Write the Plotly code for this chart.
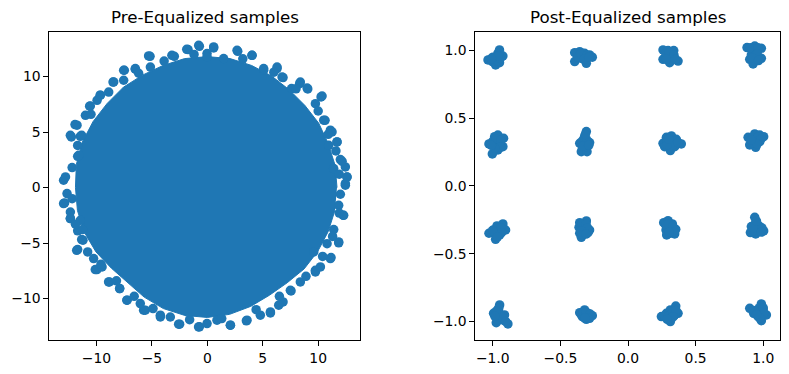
import plotly.graph_objects as go

BLUE = "#1f77b4"

# ---- Pre-equalized samples: dense core outline ----
core_x = [11.7, 11.52, 10.9, 10.05, 8.81, 7.39, 5.8, 4.0, 2.05, 0.0, -2.05, -4.0, -5.85, -7.58,
          -9.04, -10.31, -11.28, -11.82, -11.9, -11.72, -11.09, -10.05, -8.66, -7.2, -5.7, -3.97,
          -2.03, 0.0, 2.01, 3.9, 5.6, 7.2, 8.73, 9.96, 10.9, 11.52]
core_y = [0.0, 2.03, 3.97, 5.8, 7.39, 8.81, 10.05, 11.0, 11.62, 11.8, 11.62, 11.0, 10.13, 9.04,
          7.58, 5.95, 4.1, 2.08, 0.0, -2.07, -4.04, -5.8, -7.26, -8.58, -9.87, -10.9,
          -11.52, -11.7, -11.42, -10.71, -9.7, -8.58, -7.33, -5.75, -3.97, -2.03]

# ---- Pre-equalized samples: scattered edge points ----
pre_x = [-0.72, 0.57, -1.74, -5.17, 4.03, 2.74, -2.98, -7.49, -6.5, -8.45, -9.66, -10.62, -11.76,
         -12.27, -11.46, -11.7, -12.97, -12.88, -12.36, -11.7, -11.22, -11.7, -9.96, -8.84, -7.91,
         -7.25, -5.75, -4.24, -2.5, -0.72, 2.08, 3.52, 5.69, 6.83, 7.55, 9.75, 11.16, 11.85, 12.24,
         12.45, 12.6, 12.45, 12.0, 11.7, 11.1, 10.5, 10.26, 9.06, 8.33, 6.83, 6.29, 5.08,
         -5.3, -6.5, -7.55, -8.51, -9.66, -10.56, -11.94, -12.36, -11.34, -11.6, -12.8, -1.86, -0.78,
         -0.03, -3.2, -5.14, -7.55, -9.95, -11.0,
         0.57, 2.68, 4.03, 6.29, 6.74, 8.39, 9.0, 10.35, 9.75, 10.62, 11.25, 11.7, 12.16, 12.6,
         -0.03, 1.47, 5.08, 7.6, 10.95, 11.4,
         -12.97, -12.36, -12.36, -11.46, -11.25, -11.34, -11.79, -10.26, -10.11, -9.5, -8.91, -7.91,
         -7.25, -5.6, -4.24, -2.59, -12.66, -3.34, -0.79, -6.05,
         12.45, 12.3, 11.85, 11.4, 11.85, 11.1, 9.6, 9.75, 8.39, 7.49, 6.44, 5.69, 4.78, 3.58, 2.08,
         0.87, -0.03, 10.2, 10.8,
         11.9, 11.6, 10.9, 10.0, 8.0, 6.0, 3.2, -1.2, -3.9, -6.2, -8.9, -10.5, -11.7, -12.2, -12.2,
         -11.9, -10.8, -9.6, -8.2, -6.6, -4.9, -1.6, 1.3, 4.4, 6.5, 8.9, 10.4, 11.3, 11.9, 12.0]
pre_y = [12.73, 12.58, 12.43, 11.83, 11.92, 12.28, 11.83, 10.57, 10.66, 9.52, 8.32, 7.33, 5.62,
         4.56, 4.62, 2.82, 0.66, -1.38, -2.79, -3.9, -4.74, -5.59, -7.39, -8.5, -9.1,
         -10.15, -11.05, -11.5, -12.31, -12.55, -12.4, -12.0, -11.29, -10.3, -9.31, -7.6, -6.31, -4.98, -2.49,
         0.21, 0.96, 1.86, 2.52, 4.11, 5.17, 6.07, 8.17, 8.89, 9.37, 9.91, 10.72, 10.57,
         11.86, 10.72, 10.57, 9.51, 8.32, 7.35, 5.68, 4.71, 4.71, 2.91, 0.96, 12.46, 12.82,
         12.07, 11.92, 10.86, 9.67, 7.86, 6.51,
         12.67, 12.37, 11.92, 10.86, 9.96, 9.51, 8.97, 8.25, 7.56, 6.06, 5.01, 4.11, 2.37, 0.95,
         11.77, 11.62, 10.72, 8.92, 3.81, 1.71,
         -1.44, -2.2, -2.79, -2.95, -3.78, -4.68, -5.65, -6.4, -7.39, -7.15, -8.5, -9.1,
         -10.15, -11.05, -11.66, -12.31, -0.54, -11.66, -12.56, -10.45,
         0.36, -2.5, -1.6, -3.78, -4.9, -6.4, -5.8, -7.45, -8.5, -9.25, -10.6, -11.2, -11.5, -11.95, -12.4,
         -11.95, -12.25, -7.15, -5.05,
         1.2, 3.3, 4.8, 6.9, 8.9, 10.4, 11.6, 12.0, 11.4, 10.3, 8.6, 6.6, 3.8, 1.8, -1.0,
         -3.3, -5.8, -6.9, -8.4, -9.8, -10.9, -11.9, -11.8, -11.0, -9.8, -8.0, -6.2, -4.4, -2.3, -0.6]

# ---- Post-equalized samples (16 clusters): outer points ----
post_x = [
    -1.035, -0.999, -0.962, -0.950, -0.925, -0.950, -0.979, -1.003, -0.97, -0.95,
    -0.394, -0.357, -0.321, -0.284, -0.264, -0.394, -0.345, -0.308, -0.357, -0.34, -0.31,
    0.259, 0.296, 0.321, 0.333, 0.370, 0.308, 0.259, 0.284, 0.338, 0.30, 0.32,
    0.880, 0.937, 0.986, 0.937, 0.900, 0.949, 0.986, 0.925, 0.912, 0.94, 0.95,
    -1.028, -0.986, -0.962, -0.920, -0.925, -0.962, -1.003, -0.986, -0.950, -0.97, -0.95,
    -0.308, -0.321, -0.357, -0.284, -0.333, -0.345, -0.303, -0.321, -0.32, -0.33,
    0.259, 0.284, 0.321, 0.357, 0.394, 0.345, 0.313, 0.271, 0.308, 0.32, 0.30,
    0.888, 0.937, 0.974, 1.003, 0.949, 0.900, 0.944, 0.974, 0.95, 0.93,
    -1.028, -0.998, -0.969, -0.925, -0.905, -0.949, -0.979, -0.959, -0.96, -0.95,
    -0.357, -0.308, -0.284, -0.321, -0.357, -0.345, -0.296, -0.362, -0.33, -0.32,
    0.264, 0.296, 0.328, 0.353, 0.313, 0.345, 0.281, 0.286, 0.31, 0.32,
    0.937, 0.944, 0.912, 0.974, 1.003, 0.905, 0.944, 0.969, 0.95, 0.94,
    -0.949, -0.962, -0.994, -0.949, -0.974, -0.925, -0.888, -0.913, -0.95, -0.94,
    -0.357, -0.321, -0.296, -0.264, -0.308, -0.338, -0.284, -0.32, -0.30,
    0.247, 0.284, 0.313, 0.353, 0.370, 0.321, 0.313, 0.345, 0.31, 0.33,
    0.900, 0.929, 0.986, 0.999, 1.023, 0.962, 0.986, 0.949, 0.96, 0.97,
]
post_y = [
    0.930, 0.950, 0.979, 1.004, 0.959, 0.910, 0.893, 0.918, 0.94, 0.95,
    0.984, 0.991, 0.979, 0.967, 0.950, 0.918, 0.942, 0.905, 0.960, 0.95, 0.955,
    1.004, 0.999, 0.979, 0.942, 0.922, 0.910, 0.935, 0.954, 0.999, 0.96, 0.95,
    1.021, 1.033, 1.016, 0.991, 0.935, 0.930, 0.942, 0.900, 0.967, 0.96, 0.95,
    0.310, 0.364, 0.376, 0.352, 0.290, 0.266, 0.236, 0.315, 0.327, 0.32, 0.30,
    0.401, 0.364, 0.315, 0.320, 0.278, 0.253, 0.253, 0.315, 0.30, 0.34,
    0.315, 0.359, 0.369, 0.344, 0.310, 0.290, 0.261, 0.290, 0.327, 0.32, 0.31,
    0.359, 0.384, 0.376, 0.364, 0.339, 0.303, 0.285, 0.327, 0.35, 0.33,
    -0.349, -0.325, -0.295, -0.280, -0.325, -0.362, -0.394, -0.330, -0.31, -0.34,
    -0.271, -0.258, -0.325, -0.320, -0.349, -0.379, -0.345, -0.305, -0.31, -0.33,
    -0.271, -0.256, -0.280, -0.320, -0.349, -0.354, -0.325, -0.362, -0.31, -0.33,
    -0.231, -0.271, -0.300, -0.300, -0.332, -0.344, -0.354, -0.320, -0.32, -0.30,
    -0.878, -0.915, -0.940, -0.964, -1.009, -0.989, -1.018, -0.952, -0.94, -0.98,
    -0.935, -0.915, -0.940, -0.957, -0.984, -0.964, -0.977, -0.955, -0.96,
    -0.964, -0.940, -0.915, -0.886, -0.940, -0.977, -1.001, -0.952, -0.95, -0.94,
    -0.903, -0.940, -0.871, -0.915, -0.952, -0.964, -0.994, -0.927, -0.94, -0.95,
]

# ---- Post-equalized samples: inner points filling each cluster ----
post_in_x = [
    -0.985, -0.965, -0.945, -0.96, -1.01,
    -0.37, -0.35, -0.30, -0.325, -0.29,
    0.28, 0.305, 0.34, 0.285, 0.35,
    0.905, 0.96, 0.955, 0.92, 0.965,
    -1.0, -0.975, -0.94, -0.945, -0.985, -1.01,
    -0.34, -0.305, -0.31, -0.335, -0.315, -0.29,
    0.29, 0.34, 0.33, 0.29, 0.37, 0.30,
    0.92, 0.96, 0.985, 0.925, 0.955, 0.91,
    -0.99, -0.975, -0.94, -0.935, -1.0, -0.965,
    -0.34, -0.31, -0.30, -0.345, -0.335, -0.31,
    0.28, 0.30, 0.33, 0.34, 0.29, 0.305,
    0.93, 0.96, 0.99, 0.925, 0.985, 0.95,
    -0.955, -0.975, -0.96, -0.93, -0.905, -0.985,
    -0.345, -0.33, -0.31, -0.28, -0.295, -0.32,
    0.27, 0.30, 0.33, 0.355, 0.335, 0.29,
    0.925, 0.97, 1.0, 1.005, 0.975, 0.95,
]
post_in_y = [
    0.935, 0.925, 0.94, 0.96, 0.94,
    0.95, 0.975, 0.965, 0.935, 0.95,
    0.98, 0.985, 0.965, 0.935, 0.935,
    1.02, 1.02, 0.975, 0.945, 0.925,
    0.33, 0.345, 0.335, 0.285, 0.28, 0.30,
    0.33, 0.34, 0.29, 0.295, 0.38, 0.30,
    0.335, 0.33, 0.305, 0.305, 0.32, 0.345,
    0.355, 0.36, 0.35, 0.32, 0.31, 0.34,
    -0.345, -0.36, -0.31, -0.345, -0.33, -0.375,
    -0.28, -0.28, -0.31, -0.33, -0.36, -0.355,
    -0.29, -0.28, -0.30, -0.34, -0.345, -0.34,
    -0.33, -0.29, -0.31, -0.31, -0.34, -0.26,
    -0.90, -0.925, -0.99, -0.97, -1.0, -0.96,
    -0.95, -0.93, -0.935, -0.945, -0.975, -0.975,
    -0.96, -0.96, -0.925, -0.92, -0.965, -0.985,
    -0.92, -0.90, -0.90, -0.94, -0.975, -0.95,
]

pre_ticks = [-10, -5, 0, 5, 10]
pre_labels = ["\u221210", "\u22125", "0", "5", "10"]
post_ticks = [-1.0, -0.5, 0.0, 0.5, 1.0]
post_labels = ["\u22121.0", "\u22120.5", "0.0", "0.5", "1.0"]
titles = ["Pre-Equalized samples", "Post-Equalized samples"]

MS = 9.5
fig = go.Figure()
fig.add_trace(go.Scatter(x=core_x, y=core_y, mode="lines", fill="toself", fillcolor=BLUE,
                         line=dict(color=BLUE, width=1), xaxis="x", yaxis="y", hoverinfo="skip"))
fig.add_trace(go.Scatter(x=pre_x, y=pre_y, mode="markers", marker=dict(color=BLUE, size=MS),
                         xaxis="x", yaxis="y", hoverinfo="skip"))
fig.add_trace(go.Scatter(x=post_x + post_in_x, y=post_y + post_in_y, mode="markers",
                         marker=dict(color=BLUE, size=MS), xaxis="x2", yaxis="y2", hoverinfo="skip"))

# page body has an 8px margin: figure occupies page pixels 8..789
OFF = 8
W, H = 781, 366
l1, r1 = (49.3 - OFF) / W, (360.3 - OFF) / W
l2, r2 = (475.3 - OFF) / W, (780.3 - OFF) / W
b, t = 1 - (340.3 - OFF) / H, 1 - (32.3 - OFF) / H

font = dict(family="DejaVu Sans", size=13.9, color="black")
axis_common = dict(showline=True, mirror=True, linecolor="black", linewidth=1, ticks="outside",
                   ticklen=4.9, tickwidth=1, tickcolor="black", showgrid=False, zeroline=False,
                   tickfont=font, automargin=False)

fig.update_layout(
    width=W, height=H, margin=dict(l=0, r=0, t=0, b=0),
    paper_bgcolor="white", plot_bgcolor="white", showlegend=False,
    xaxis=dict(domain=[l1, r1], range=[-14.26, 13.8], tickvals=pre_ticks, ticktext=pre_labels,
               anchor="y", **axis_common),
    yaxis=dict(domain=[b, t], range=[-13.76, 13.99], tickvals=pre_ticks, ticktext=pre_labels,
               anchor="x", **axis_common),
    xaxis2=dict(domain=[l2, r2], range=[-1.129, 1.126], tickvals=post_ticks, ticktext=post_labels,
                anchor="y2", **axis_common),
    yaxis2=dict(domain=[b, t], range=[-1.139, 1.134], tickvals=post_ticks, ticktext=post_labels,
                anchor="x2", **axis_common),
    annotations=[
        dict(text=titles[0], x=(l1 + r1) / 2, y=t, xref="paper", yref="paper", xanchor="center",
             yanchor="bottom", yshift=3, showarrow=False,
             font=dict(family="DejaVu Sans", size=16.7, color="black")),
        dict(text=titles[1], x=(l2 + r2) / 2, y=t, xref="paper", yref="paper", xanchor="center",
             yanchor="bottom", yshift=3, showarrow=False,
             font=dict(family="DejaVu Sans", size=16.7, color="black")),
    ],
)

fig.write_html("out.html", config={"displayModeBar": False})
